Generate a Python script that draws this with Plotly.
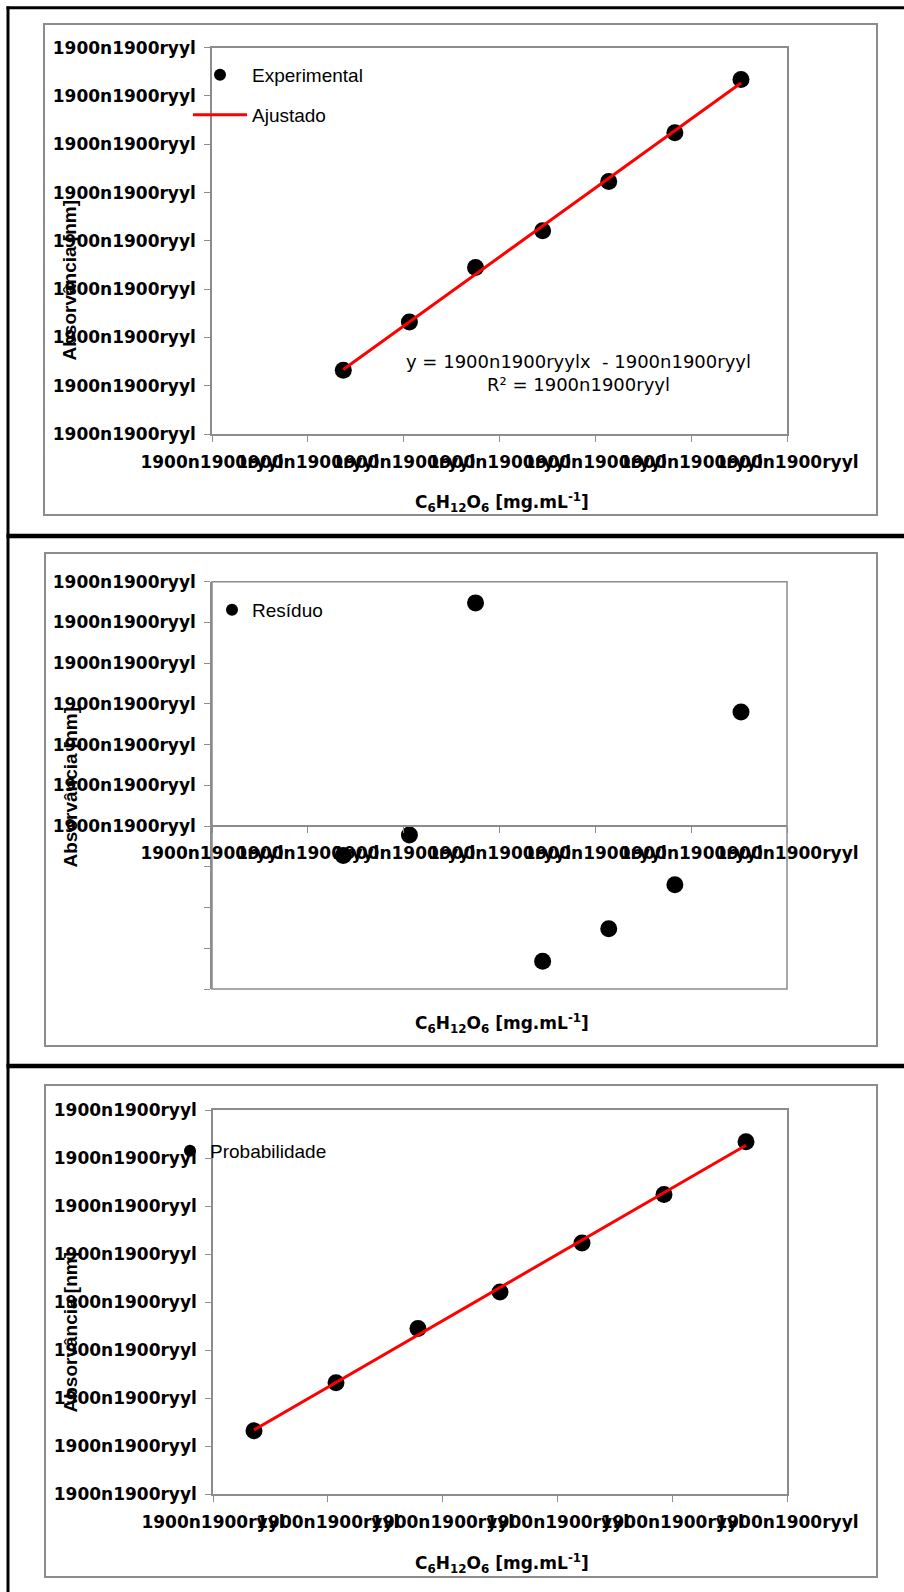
import plotly.graph_objects as go

W, H = 904, 1592

# Curva de calibração da glicose
concentracao = [1.37, 2.06, 2.75, 3.45, 4.14, 4.83, 5.52]
absorbancia = [0.132, 0.232, 0.345, 0.421, 0.523, 0.624, 0.734]
ajustado = [0.1335, 0.2324, 0.3312, 0.4301, 0.5290, 0.6278, 0.7267]

# Resíduos do ajuste linear
residuo = [-0.0018, -0.00055, 0.0137, -0.0083, -0.0063, -0.0036, 0.0070]

# Gráfico de probabilidade normal
probabilidade = [7.14, 21.43, 35.71, 50.0, 64.29, 78.57, 92.86]
absorbancia_ordenada = [0.132, 0.232, 0.345, 0.421, 0.523, 0.624, 0.734]
ajustado_ordenado = [0.1335, 0.2324, 0.3312, 0.4301, 0.5290, 0.6278, 0.7267]

# Marcas dos eixos
ticks_conc = [0, 1, 2, 3, 4, 5, 6]
ticks_abs = [0.0, 0.1, 0.2, 0.3, 0.4, 0.5, 0.6, 0.7, 0.8]
ticks_res = [-0.01, -0.0075, -0.005, -0.0025, 0.0, 0.0025, 0.005, 0.0075, 0.01, 0.0125, 0.015]
ticks_prob = [0, 20, 40, 60, 80, 100]
rotulo = "1900n1900ryyl"

titulo_x = "C<sub>6</sub>H<sub>12</sub>O<sub>6</sub> [mg.mL<sup>-1</sup>]"
titulo_y = "Absorvância [nm]"
equacao = "y = 1900n1900ryylx  - 1900n1900ryyl<br>R² = 1900n1900ryyl"


def px(x):
    return x / W


def py(y):
    return 1 - y / H


GRAY = "#8c8c8c"
TICK_FONT = dict(family="DejaVu Sans", size=17, color="black", weight="bold")
LEG_FONT = dict(family="Liberation Sans, Arial", size=19, color="black")

axis_base = dict(
    showline=True, linecolor=GRAY, linewidth=1.5,
    ticks="outside", ticklen=6, tickcolor=GRAY, tickwidth=1,
    showgrid=False, zeroline=False, tickfont=TICK_FONT, tickangle=0,
    tickmode="array", automargin=False,
)
xaxis_base = dict(axis_base, ticklabelstandoff=6)
yaxis_base = dict(axis_base, ticklabelstandoff=5)

fig = go.Figure()

# Painel 1: curva de calibração
fig.add_trace(go.Scatter(
    x=concentracao, y=absorbancia, mode="markers", name="Experimental",
    marker=dict(color="black", size=17), xaxis="x", yaxis="y", legend="legend"))
fig.add_trace(go.Scatter(
    x=concentracao, y=ajustado, mode="lines", name="Ajustado",
    line=dict(color="#ff0000", width=3), xaxis="x", yaxis="y", legend="legend2"))

# Painel 2: resíduos
fig.add_trace(go.Scatter(
    x=concentracao, y=residuo, mode="markers", name="Resíduo",
    marker=dict(color="black", size=17), xaxis="x2", yaxis="y2", legend="legend3"))

# Painel 3: probabilidade normal
fig.add_trace(go.Scatter(
    x=probabilidade, y=absorbancia_ordenada, mode="markers", name="Probabilidade",
    marker=dict(color="black", size=17), xaxis="x3", yaxis="y3", legend="legend4"))
fig.add_trace(go.Scatter(
    x=probabilidade, y=ajustado_ordenado, mode="lines", showlegend=False,
    line=dict(color="#ff0000", width=3), xaxis="x3", yaxis="y3"))

xdom = [px(212), px(787)]
xdom3 = [px(213), px(787)]
ydom1 = [py(434), py(47.7)]
ydom2 = [py(989), py(581.7)]
ydom3 = [py(1494), py(1110)]

res_range = [-0.01, 0.015]
# eixo x dos resíduos cruza o eixo y em zero
pos_zero = ydom2[0] + (0 - res_range[0]) / (res_range[1] - res_range[0]) * (ydom2[1] - ydom2[0])

fig.update_layout(
    width=W, height=H, margin=dict(l=0, r=0, t=0, b=0, pad=0, autoexpand=False),
    paper_bgcolor="white", plot_bgcolor="white",
    xaxis=dict(xaxis_base, domain=xdom, range=[0, 6], anchor="y", mirror=True,
               tickvals=ticks_conc, ticktext=[rotulo] * len(ticks_conc)),
    yaxis=dict(yaxis_base, domain=ydom1, range=[0, 0.8], anchor="x", mirror=True,
               tickvals=ticks_abs, ticktext=[rotulo] * len(ticks_abs)),
    xaxis2=dict(xaxis_base, domain=xdom, range=[0, 6], anchor="free", position=pos_zero,
                tickvals=ticks_conc, ticktext=[rotulo] * len(ticks_conc)),
    yaxis2=dict(yaxis_base, domain=ydom2, range=res_range, anchor="x2",
                tickvals=ticks_res,
                ticktext=[rotulo if v >= 0 else "" for v in ticks_res]),
    xaxis3=dict(xaxis_base, domain=xdom3, range=[0, 100], anchor="y3", mirror=True,
                tickvals=ticks_prob, ticktext=[rotulo] * len(ticks_prob)),
    yaxis3=dict(yaxis_base, domain=ydom3, range=[0, 0.8], anchor="x3", mirror=True,
                tickvals=ticks_abs, ticktext=[rotulo] * len(ticks_abs)),
    showlegend=True,
    legend=dict(x=px(188), y=py(75), xanchor="left", yanchor="middle", itemwidth=54,
                font=LEG_FONT, bgcolor="rgba(0,0,0,0)", itemsizing="constant"),
    legend2=dict(x=px(188), y=py(115), xanchor="left", yanchor="middle", itemwidth=54,
                 font=LEG_FONT, bgcolor="rgba(0,0,0,0)"),
    legend3=dict(x=px(212), y=py(610), xanchor="left", yanchor="middle",
                 font=LEG_FONT, bgcolor="rgba(0,0,0,0)", itemsizing="constant"),
    legend4=dict(x=px(170), y=py(1151), xanchor="left", yanchor="middle",
                 font=LEG_FONT, bgcolor="rgba(0,0,0,0)", itemsizing="constant"),
)

# Moldura da área de plotagem dos resíduos
fig.add_shape(type="rect", xref="x2 domain", yref="y2 domain", x0=0, x1=1, y0=0, y1=1,
              line=dict(color=GRAY, width=1.5), layer="below")

# Títulos dos eixos e equação do ajuste
TITLE_FONT_X = dict(family="DejaVu Sans", size=17, color="black", weight="bold")
TITLE_FONT_Y = dict(family="Liberation Sans, Arial", size=19, color="black", weight="bold")
for yc in (503, 1023, 1563):
    fig.add_annotation(text=titulo_x, xref="paper", yref="paper", x=px(502), y=py(yc),
                       showarrow=False, font=TITLE_FONT_X, xanchor="center", yanchor="middle")
for yc in (281, 788, 1333):
    fig.add_annotation(text=titulo_y, xref="paper", yref="paper", x=px(69.5), y=py(yc),
                       showarrow=False, font=TITLE_FONT_Y, textangle=-90,
                       xanchor="center", yanchor="middle")
fig.add_annotation(text=equacao, xref="paper", yref="paper", x=px(578), y=py(372.5),
                   showarrow=False, align="center",
                   font=dict(family="DejaVu Sans", size=18, color="black"),
                   xanchor="center", yanchor="middle")

# Caixas dos gráficos
for (x0, y0, x1, y1) in [(44, 24, 877, 515), (45, 553, 877, 1046), (45, 1085, 877, 1577)]:
    fig.add_shape(type="rect", xref="paper", yref="paper",
                  x0=px(x0), x1=px(x1), y0=py(y1), y1=py(y0),
                  line=dict(color=GRAY, width=2), layer="below")

# Bordas da tabela
BLACK = dict(color="black", width=3)
fig.add_shape(type="line", xref="paper", yref="paper", x0=px(8), x1=px(8), y0=0, y1=py(6.5), line=BLACK)
fig.add_shape(type="line", xref="paper", yref="paper", x0=px(6.5), x1=1, y0=py(7.7), y1=py(7.7), line=BLACK)
for yl in (536, 1066):
    fig.add_shape(type="line", xref="paper", yref="paper", x0=px(6.5), x1=1, y0=py(yl), y1=py(yl),
                  line=dict(color="black", width=4.5))

fig.write_html("out.html")
